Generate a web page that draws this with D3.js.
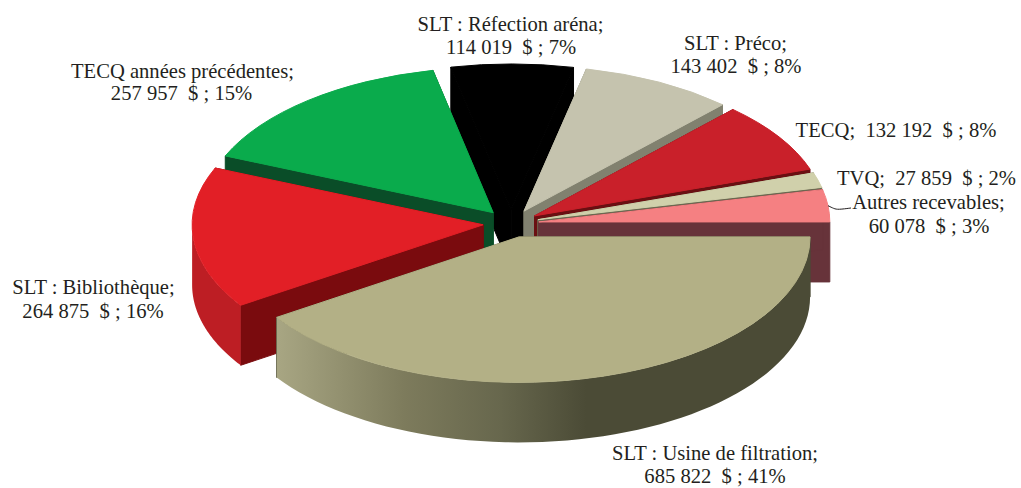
<!DOCTYPE html>
<html>
<head>
<meta charset="utf-8">
<script src="https://cdn.jsdelivr.net/npm/d3@7"></script>
<style>
  body { margin: 0; background: #fff; }
  text { font-family: "Liberation Serif", serif; font-size: 20.6px; fill: #231f20; white-space: pre; }
</style>
</head>
<body>
<svg id="chart"></svg>
<script>
// Chart data, starting at 3 o'clock and going counterclockwise
const categories = ["Autres recevables", "TVQ", "TECQ", "SLT : Préco", "SLT : Réfection aréna",
  "TECQ années précédentes", "SLT : Bibliothèque", "SLT : Usine de filtration"];
const values = [60078, 27859, 132192, 143402, 114019, 257957, 264875, 685822];
const valueLabels = ["60 078", "27 859", "132 192", "143 402", "114 019", "257 957", "264 875", "685 822"];
const percents = [3, 2, 8, 8, 7, 15, 16, 41];

// Slice colours
const topColors = ["#f58082", "#d0d0ab", "#c9202a", "#c5c3ae", "#000000", "#0aab4c", "#e21f26", "#b3b086"];
const cutColors = ["#67333a", "#6b6850", "#6a0f12", "#81816f", "#000000", "#0a4d28", "#7a0b0e", "#4b4b36"];
const rimColors = ["#67333a", "#6b6850", "#6a0f12", "#81816f", "#000000", "#0a4d28", "#bd1e24", "url(#rimGradient)"];

// Chart dimensions
const width = 1021;
const height = 488;
const center = { x: 511, y: 223.5 };
const radius = 291;
const tilt = 0.5;
const depth = 60;
const explode = 28;

// Back to front drawing order
const drawOrder = [4, 5, 3, 2, 1, 0, 6, 7];

// Label lines: [x centre, baseline]
const labelLayout = [
  [[928.5, 209], [929, 233]],
  [[926.5, 185]],
  [[896, 137]],
  [[735.5, 49.5], [736, 72.5]],
  [[510.5, 31], [511, 54]],
  [[182.5, 77.5], [181.5, 100]],
  [[93.5, 294], [93, 318]],
  [[715, 460], [715, 483]]
];

const svg = d3.select("#chart").attr("width", width).attr("height", height)
  .style("display", "block");

// Gradient on the round side of the big slice
const gradient = svg.append("defs").append("linearGradient")
  .attr("id", "rimGradient")
  .attr("x1", 0).attr("x2", 1).attr("y1", 0).attr("y2", 0);
gradient.selectAll("stop")
  .data([[0, "#a8a683"], [0.24, "#7d7b5c"], [0.42, "#67674d"], [0.58, "#4b4b36"], [1, "#4b4b36"]])
  .enter().append("stop")
  .attr("offset", (d) => d[0])
  .attr("stop-color", (d) => d[1]);

const pie = d3.pie().sort(null).startAngle(Math.PI / 2).endAngle(Math.PI / 2 - 2 * Math.PI);
const slices = pie(values);
const arc = d3.arc().innerRadius(0).outerRadius(radius);

// Screen position of a point on the flattened disc
const px = (theta, r) => r * Math.sin(theta);
const py = (theta, r) => -r * Math.cos(theta) * tilt;

slices.forEach((s) => {
  const mid = (s.startAngle + s.endAngle) / 2;
  s.dx = center.x + px(mid, explode);
  s.dy = center.y + py(mid, explode);
});

// Flat side from the slice apex to the rim
const cutWall = (theta) => d3.area()
  .x((t) => px(theta, t * radius))
  .y0((t) => py(theta, t * radius))
  .y1((t) => py(theta, t * radius) + depth)([0, 1]);

// Round side, only the part that faces the viewer
const rimWall = (s) => {
  const from = Math.min(s.startAngle, -Math.PI / 2);
  const to = Math.max(s.endAngle, -3 * Math.PI / 2);
  if (from <= to) return null;
  const thetas = d3.range(0, 61).map((i) => from + (to - from) * i / 60);
  return d3.area()
    .x((t) => px(t, radius))
    .y0((t) => py(t, radius))
    .y1((t) => py(t, radius) + depth)(thetas);
};

const groups = svg.selectAll(".slice")
  .data(drawOrder)
  .enter()
  .append("g")
  .attr("class", "slice")
  .attr("transform", (i) => `translate(${slices[i].dx}, ${slices[i].dy})`);

groups.append("path")
  .attr("d", (i) => cutWall(slices[i].startAngle))
  .attr("fill", (i) => cutColors[i])
  .attr("stroke", (i) => cutColors[i])
  .attr("stroke-width", 1);

groups.append("path")
  .attr("d", (i) => cutWall(slices[i].endAngle))
  .attr("fill", (i) => cutColors[i])
  .attr("stroke", (i) => cutColors[i])
  .attr("stroke-width", 1);

groups.filter((i) => rimWall(slices[i]) !== null)
  .append("path")
  .attr("d", (i) => rimWall(slices[i]))
  .attr("fill", (i) => rimColors[i]);

groups.append("path")
  .attr("transform", `scale(1, ${tilt})`)
  .attr("d", (i) => arc(slices[i]))
  .attr("fill", (i) => topColors[i])
  .attr("stroke", (i) => topColors[i])
  .attr("stroke-width", 1)
  .attr("vector-effect", "non-scaling-stroke");

// Leader line for Autres recevables
const first = slices[0];
const firstMid = (first.startAngle + first.endAngle) / 2;
const leaderStart = [first.dx + px(firstMid, radius), first.dy + py(firstMid, radius)];
svg.append("path")
  .attr("d", d3.line().curve(d3.curveBasis)([
    leaderStart,
    [leaderStart[0] + 6, leaderStart[1] + 3],
    [leaderStart[0] + 10, leaderStart[1] + 4],
    [851, 208]
  ]))
  .attr("fill", "none")
  .attr("stroke", "#231f20")
  .attr("stroke-width", 1);

// Labels
const labelLines = (i) => {
  const amount = `${valueLabels[i]}  $ ; ${percents[i]}%`;
  if (labelLayout[i].length === 1) return [`${categories[i]};  ${amount}`];
  return [`${categories[i]};`, amount];
};

categories.forEach((c, i) => {
  labelLines(i).forEach((line, j) => {
    svg.append("text")
      .attr("x", labelLayout[i][j][0])
      .attr("y", labelLayout[i][j][1])
      .attr("text-anchor", "middle")
      .text(line);
  });
});
</script>
</body>
</html>
